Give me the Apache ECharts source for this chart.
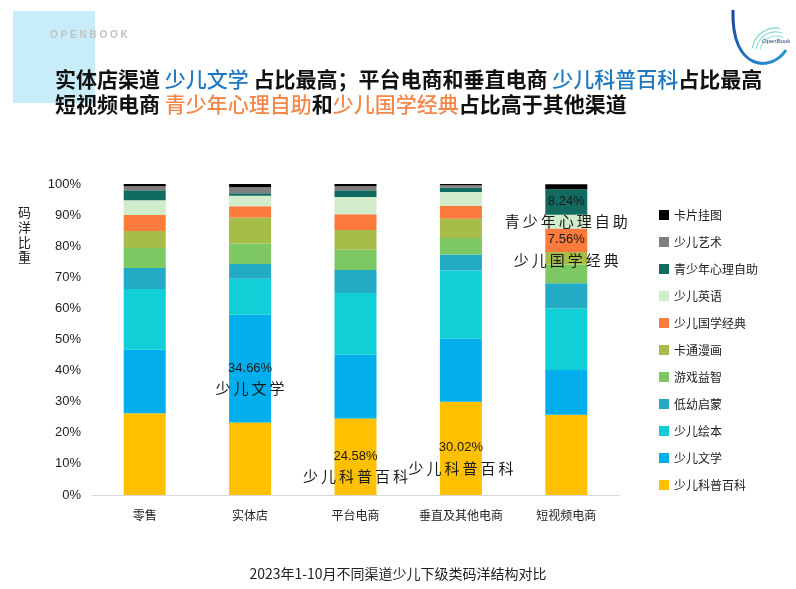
<!DOCTYPE html>
<html>
<head>
<meta charset="utf-8">
<script src="https://cdn.jsdelivr.net/npm/echarts@6/dist/echarts.min.js"></script>
<style>
html,body{margin:0;padding:0;background:#fff;}
#chart{width:796px;height:589px;}
</style>
</head>
<body>
<div id="chart"></div>
<script>
// ---- data ----
const categories = ['零售', '实体店', '平台电商', '垂直及其他电商', '短视频电商'];
const seriesNames = ['少儿科普百科', '少儿文学', '少儿绘本', '低幼启蒙', '游戏益智', '卡通漫画', '少儿国学经典', '少儿英语', '青少年心理自助', '少儿艺术', '卡片挂图'];
const kepu    = [26.3, 23.3, 24.58, 30.02, 25.8];
const wenxue  = [20.4, 34.66, 20.5, 20.24, 14.4];
const huiben  = [19.5, 11.6, 19.85, 21.9, 19.8];
const diyou   = [6.8, 4.7, 7.4, 5.15, 8.1];
const youxi   = [6.4, 6.6, 6.5, 5.35, 6.0];
const katong  = [5.5, 8.4, 6.4, 6.2, 4.0];
const guoxue  = [5.1, 3.6, 5.05, 4.1, 7.56];
const yingyu  = [4.8, 3.4, 5.55, 4.5, 4.45];
const xinli   = [3.2, 0.8, 2.15, 1.3, 8.24];
const yishu   = [1.3, 1.9, 1.3, 0.9, 0.0];
const kapian  = [0.7, 1.0, 0.7, 0.4, 1.6];
const seriesValues = [kepu, wenxue, huiben, diyou, youxi, katong, guoxue, yingyu, xinli, yishu, kapian];
const yTicks = [0, 10, 20, 30, 40, 50, 60, 70, 80, 90, 100];
// annotated segments: [series name, category index]
const annotations = [['少儿文学', 1], ['少儿科普百科', 2], ['少儿科普百科', 3], ['青少年心理自助', 4], ['少儿国学经典', 4]];
const legendOrder = ['卡片挂图', '少儿艺术', '青少年心理自助', '少儿英语', '少儿国学经典', '卡通漫画', '游戏益智', '低幼启蒙', '少儿绘本', '少儿文学', '少儿科普百科'];
const caption = '2023年1-10月不同渠道少儿下级类码洋结构对比';

// ---- styles ----
const colors = ['#ffc000', '#02aeec', '#10cfd6', '#23aac5', '#7dc862', '#a6bd4a', '#fa7b3b', '#d0eccb', '#116b60', '#7f7f7f', '#000000'];
const FONT = '"Liberation Sans", "Noto Sans CJK SC", sans-serif';
const CJK = '"Noto Sans CJK SC", sans-serif';
const spaced = s => s.split('').join('\u2009');

const chart = echarts.init(document.getElementById('chart'));

const series = seriesNames.map((name, si) => ({
  name: name,
  type: 'bar',
  stack: 'total',
  barWidth: 42,
  itemStyle: { color: colors[si] },
  data: seriesValues[si].map((v, ci) => {
    const ann = annotations.some(a => a[0] === name && a[1] === ci);
    if (!ann) return v;
    return {
      value: v,
      label: {
        show: true,
        position: 'inside',
        offset: [0, 10],
        formatter: p => '{v|' + p.value + '%}\n{n|' + spaced(p.seriesName) + '}',
        rich: {
          v: { fontSize: 13, color: '#1a1a1a', lineHeight: 19, fontFamily: FONT },
          n: { fontSize: 15, color: '#1a1a1a', lineHeight: 21, fontFamily: CJK }
        }
      }
    };
  })
}));

const option = {
  animation: false,
  backgroundColor: '#ffffff',
  textStyle: { fontFamily: FONT },
  title: [{
    left: 50,
    top: 62,
    text: '{k|实体店渠道 }{b|少儿文学}{k| 占比最高；平台电商和垂直电商 }{b|少儿科普百科}{k|占比最高}\n{k|短视频电商 }{o|青少年心理自助}{k|和}{o|少儿国学经典}{k|占比高于其他渠道}',
    textStyle: {
      rich: {
        k: { fontSize: 21, fontWeight: 'bold', color: '#111111', lineHeight: 25, fontFamily: CJK },
        b: { fontSize: 21, fontWeight: 500, color: '#1e78c0', lineHeight: 25, fontFamily: CJK },
        o: { fontSize: 21, fontWeight: 500, color: '#f4874a', lineHeight: 25, fontFamily: CJK }
      }
    }
  }, {
    left: 'center',
    top: 562,
    text: caption,
    textStyle: { fontSize: 14, fontWeight: 'normal', color: '#222222', fontFamily: CJK }
  }],
  legend: {
    orient: 'vertical',
    left: 654,
    top: 204,
    itemWidth: 10,
    itemHeight: 10,
    itemGap: 15,
    icon: 'rect',
    data: legendOrder,
    textStyle: { fontSize: 12, color: '#222222', fontFamily: CJK }
  },
  grid: { left: 92, right: 177, top: 184, bottom: 94, containLabel: false },
  xAxis: {
    type: 'category',
    data: categories,
    axisLine: { lineStyle: { color: '#d9d9d9' } },
    axisTick: { show: false },
    axisLabel: { interval: 0, fontSize: 12, color: '#222222', margin: 14, fontFamily: CJK }
  },
  yAxis: {
    type: 'value',
    min: yTicks[0],
    max: yTicks[yTicks.length - 1],
    interval: yTicks[1] - yTicks[0],
    axisLine: { show: false },
    axisTick: { show: false },
    splitLine: { show: false },
    axisLabel: { fontSize: 13, color: '#222222', margin: 11, formatter: '{value}%', fontFamily: FONT }
  },
  graphic: [
    { type: 'rect', z: -10, shape: { x: 13, y: 11, width: 82, height: 92 }, style: { fill: '#c8ecfa' } },
    { type: 'text', x: 50, y: 30, style: { text: 'O P E N B O O K', fill: '#c2c2c2', font: 'bold 10px "Liberation Sans", sans-serif' } },
    { type: 'text', x: 18, y: 205, style: { text: '码\n洋\n比\n重', fill: '#222222', font: '13px "Noto Sans CJK SC", sans-serif', lineHeight: 15 } },
    // logo
    { type: 'bezierCurve', shape: { x1: 733, y1: 10, cpx1: 731, cpy1: 72, cpx2: 772, cpy2: 72, x2: 786, y2: 50 },
      style: { stroke: new echarts.graphic.LinearGradient(0, 0, 1, 1, [{ offset: 0, color: '#1b3f9e' }, { offset: 1, color: '#2a9fd8' }]), lineWidth: 3, fill: null } },
    { type: 'arc', shape: { cx: 776, cy: 52, r: 24, startAngle: Math.PI * 1.05, endAngle: Math.PI * 1.55 }, style: { stroke: '#7dd4cf', lineWidth: 1.2, fill: null } },
    { type: 'arc', shape: { cx: 776, cy: 52, r: 20, startAngle: Math.PI * 1.05, endAngle: Math.PI * 1.6 }, style: { stroke: '#8fdad4', lineWidth: 1.2, fill: null } },
    { type: 'arc', shape: { cx: 776, cy: 52, r: 16, startAngle: Math.PI * 1.05, endAngle: Math.PI * 1.65 }, style: { stroke: '#a5e0dc', lineWidth: 1.2, fill: null } },
    { type: 'text', x: 762, y: 38, style: { text: 'OpenBook', fill: '#1f3f7a', font: '6px "Liberation Sans", sans-serif' } }
  ],
  series: series
};

chart.setOption(option);
</script>
</body>
</html>
